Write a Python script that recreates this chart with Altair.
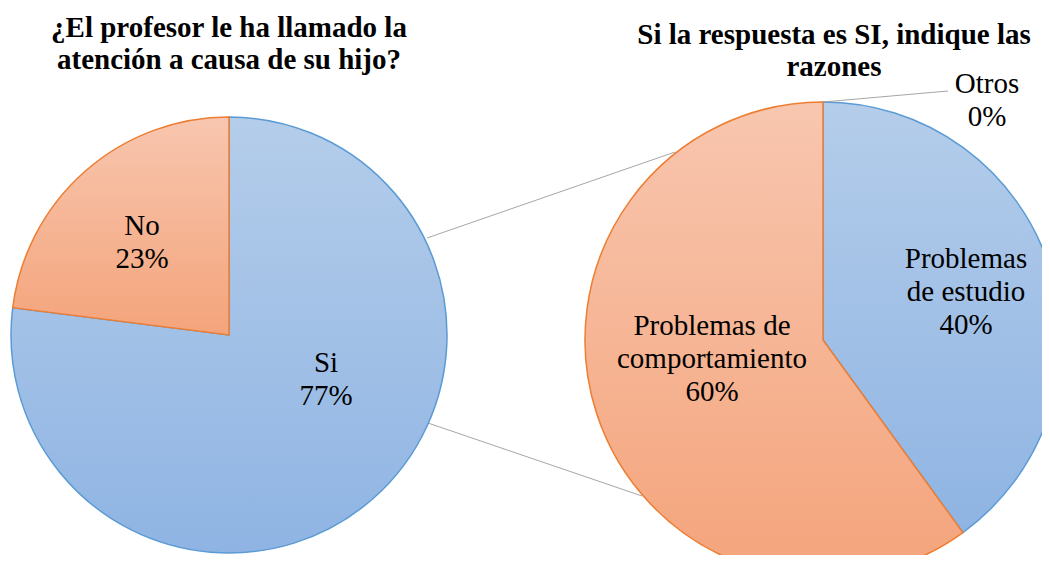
import altair as alt
import pandas as pd

# ---- data ----
left_cats = ["Si", "No"]
left_vals = [77, 23]
left_names = ["Si", "No"]

right_cats = ["Problemas de estudio", "Problemas de comportamiento", "Otros"]
right_vals = [40, 60, 0]
right_names = ["Problemas\nde estudio", "Problemas de\ncomportamiento", "Otros"]

left_title = ["¿El profesor le ha llamado la", "atención a causa de su hijo?"]
right_title = ["Si la respuesta es SI, indique las", "razones"]


def table(cats, vals, names):
    df = pd.DataFrame({"cat": cats, "val": vals, "name": names})
    df["end"] = df["val"].cumsum()
    df["start"] = df["end"] - df["val"]
    df["label"] = df["name"] + "\n" + df["val"].astype(str) + "%"
    return df


left_df = table(left_cats, left_vals, left_names)
right_df = table(right_cats, right_vals, right_names)

FONT = "Liberation Serif"
OX, OY = 8, 8  # page margin offset


def grad(c1, c2):
    return alt.Gradient(
        gradient="linear",
        stops=[alt.GradientStop(color=c1, offset=0), alt.GradientStop(color=c2, offset=1)],
        x1=0, x2=0, y1=0, y2=1,
    )


BLUE = grad("#B4CDEA", "#8FB4E3")
ORANGE = grad("#F8C6AF", "#F4A47B")

theta = alt.Theta("start:Q", scale=alt.Scale(domain=[0, 100], range=[0, 6.283185307179586]))
theta2 = alt.Theta2("end:Q")


def slice_layer(df, cat, cx, cy, r, fill, stroke):
    return (
        alt.Chart(df)
        .transform_filter(alt.datum.cat == cat)
        .mark_arc(x=cx - OX, y=cy - OY, outerRadius=r, fill=fill, stroke=stroke, strokeWidth=1.5)
        .encode(theta=theta, theta2=theta2)
    )


def label_layer(df, cat, px, py):
    return (
        alt.Chart(df)
        .transform_filter(alt.datum.cat == cat)
        .mark_text(x=px - OX, y=py - OY, font=FONT, fontSize=29, lineBreak="\n",
                   lineHeight=33, align="center", baseline="alphabetic", color="#000000")
        .encode(text="label:N")
    )


one = pd.DataFrame({"k": [0]})


def title_layer(lines, px, py):
    return (
        alt.Chart(one)
        .mark_text(x=px - OX, y=py - OY, text=lines, font=FONT, fontSize=29, fontWeight="bold",
                   lineHeight=32, align="center", baseline="alphabetic", color="#000000")
        .encode(opacity=alt.value(1))
    )


def line_layer(x1, y1, x2, y2):
    return alt.Chart(one).mark_rule(color="#A6A6A6", strokeWidth=1).encode(
        x=alt.value(x1 - OX), y=alt.value(y1 - OY), x2=alt.value(x2 - OX), y2=alt.value(y2 - OY)
    )


layers = [
    line_layer(427, 238, 675, 152),
    line_layer(428, 423, 642, 496),
    slice_layer(left_df, "Si", 229, 335, 218, BLUE, "#5B9BD5"),
    slice_layer(left_df, "No", 229, 335, 218, ORANGE, "#ED7D31"),
    slice_layer(right_df, "Problemas de estudio", 823, 340, 238, BLUE, "#5B9BD5"),
    slice_layer(right_df, "Problemas de comportamiento", 823, 340, 238, ORANGE, "#ED7D31"),
    line_layer(823, 102, 948, 91),
    label_layer(left_df, "Si", 326, 372),
    label_layer(left_df, "No", 142, 235),
    label_layer(right_df, "Problemas de estudio", 966, 268),
    label_layer(right_df, "Problemas de comportamiento", 712, 335),
    label_layer(right_df, "Otros", 987, 93),
    title_layer(left_title, 229, 37),
    title_layer(right_title, 834, 44),
]

chart = (
    alt.layer(*layers)
    .properties(width=1034, height=547, padding=0, autosize=alt.AutoSizeParams(type="none"),
                background="white")
    .configure_view(stroke=None)
)

chart.save("out.html", embed_options={"renderer": "svg", "actions": False})
